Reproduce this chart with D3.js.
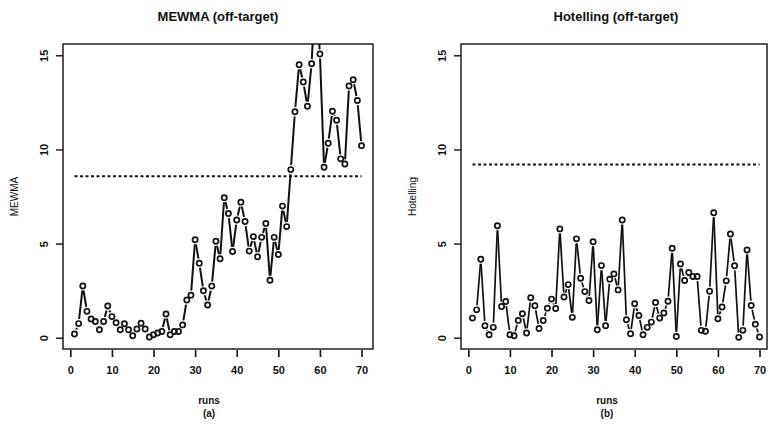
<!DOCTYPE html>
<html>
<head>
<meta charset="utf-8">
<script src="https://cdn.jsdelivr.net/npm/d3@7"></script>
<style>
  body { margin: 0; background: #fff; }
  svg { display: block; font-family: "Liberation Sans", Arial, sans-serif; }
</style>
</head>
<body>
<div id="chart"></div>
<script>
// run numbers 1..70 on the x axis
const runs = d3.range(1, 71);

const mewmaValues = [
  0.2, 0.75, 2.75, 1.4, 1.0, 0.86, 0.42, 0.86, 1.68, 1.12,
  0.8, 0.42, 0.74, 0.42, 0.1, 0.46, 0.77, 0.46, 0.04, 0.16,
  0.25, 0.33, 1.26, 0.16, 0.33, 0.33, 0.68, 2.0, 2.26, 5.2,
  3.96, 2.49, 1.74, 2.74, 5.12, 4.19, 7.44, 6.6, 4.58, 6.25,
  7.2, 6.17, 4.6, 5.37, 4.3, 5.33, 6.07, 3.05, 5.33, 4.42,
  6.99, 5.9, 8.93, 12.0, 14.5, 13.58, 12.3, 14.55, 19.0, 15.07,
  9.05, 10.33, 12.03, 11.55, 9.5, 9.23, 13.37, 13.7, 12.6, 10.2
];

const hotellingValues = [
  1.04, 1.48, 4.17, 0.64, 0.16, 0.55, 5.95, 1.66, 1.92, 0.16,
  0.1, 0.92, 1.27, 0.25, 2.12, 1.7, 0.49, 0.92, 1.57, 2.05,
  1.55, 5.78, 2.16, 2.82, 1.08, 5.25, 3.16, 2.45, 1.98, 5.1,
  0.42, 3.83, 0.64, 3.11, 3.39, 2.54, 6.25, 0.95, 0.21, 1.8,
  1.18, 0.16, 0.55, 0.83, 1.87, 1.04, 1.31, 1.94, 4.75, 0.07,
  3.92, 3.04, 3.46, 3.25, 3.25, 0.39, 0.34, 2.47, 6.64, 1.01,
  1.63, 3.02, 5.51, 3.82, 0.02, 0.39, 4.66, 1.71, 0.72, 0.04
];

const xTicks = [0, 10, 20, 30, 40, 50, 60, 70];
const yTicks = [0, 5, 10, 15];

const panels = [
  { title: "MEWMA (off-target)", ylab: "MEWMA", caption: "(a)", values: mewmaValues, limit: 8.58, lw: 2 },
  { title: "Hotelling (off-target)", ylab: "Hotelling", caption: "(b)", values: hotellingValues, limit: 9.2, lw: 1.7 }
];

const width = 769, height = 427;
const svg = d3.select("#chart").append("svg")
  .attr("width", width)
  .attr("height", height);

// R style padding: 4% each side
const xDomain = [1 - 69 * 0.04, 70 + 69 * 0.04];
const yDomain = [-0.6, 15.6];

function drawPanel(p, left, idx) {
  const boxW = 310, top = 44, bottom = 349;
  const x = d3.scaleLinear().domain(xDomain).range([left, left + boxW]);
  const y = d3.scaleLinear().domain(yDomain).range([bottom, top]);
  const right = Math.min(left + boxW, width - 2);
  const g = svg.append("g");

  g.append("clipPath").attr("id", "clip" + idx)
    .append("rect")
    .attr("x", left).attr("y", top)
    .attr("width", right - left).attr("height", bottom - top);

  // box
  g.append("rect")
    .attr("x", left).attr("y", top)
    .attr("width", right - left).attr("height", bottom - top)
    .attr("fill", "none")
    .attr("stroke", "#111")
    .attr("stroke-width", 1.4);

  // x axis
  const xAxis = g.append("g")
    .attr("transform", `translate(0,${bottom + 1})`)
    .call(d3.axisBottom(x).tickValues(xTicks).tickSize(7).tickPadding(9));
  xAxis.select(".domain").remove();
  xAxis.selectAll("line").attr("stroke", "#111").attr("stroke-width", 1.6);
  xAxis.selectAll("text")
    .style("font-family", "'Liberation Sans', Arial, sans-serif")
    .style("font-size", "11px")
    .style("font-weight", "bold")
    .attr("fill", "#111");

  // y axis, labels perpendicular as in R
  const yAxis = g.append("g")
    .attr("transform", `translate(${left},0)`)
    .call(d3.axisLeft(y).tickValues(yTicks).tickSize(7));
  yAxis.select(".domain").remove();
  yAxis.selectAll("line").attr("stroke", "#111").attr("stroke-width", 1.4);
  yAxis.selectAll("text")
    .attr("x", 0).attr("dy", 0)
    .attr("transform", `translate(-19,0) rotate(-90)`)
    .attr("text-anchor", "middle")
    .attr("dominant-baseline", "central")
    .style("font-family", "'Liberation Sans', Arial, sans-serif")
    .style("font-size", "11px")
    .style("font-weight", "bold")
    .attr("fill", "#111");

  // titles
  g.append("text")
    .attr("x", left + boxW / 2)
    .attr("y", 21)
    .attr("text-anchor", "middle")
    .style("font-size", "13px")
    .style("font-weight", "bold")
    .attr("fill", "#111")
    .text(p.title);

  g.append("text")
    .attr("transform", `translate(${left - 45},${(top + bottom) / 2}) rotate(-90)`)
    .attr("text-anchor", "middle")
    .style("font-size", "10px")
    .attr("fill", "#111")
    .text(p.ylab);

  g.append("text")
    .attr("x", left + boxW / 2 - 9)
    .attr("y", 404)
    .attr("text-anchor", "middle")
    .style("font-size", "10px")
    .style("font-weight", "bold")
    .attr("fill", "#111")
    .text("runs");

  g.append("text")
    .attr("x", left + boxW / 2 - 9)
    .attr("y", 417)
    .attr("text-anchor", "middle")
    .style("font-size", "10px")
    .style("font-weight", "bold")
    .attr("fill", "#111")
    .text(p.caption);

  // control limit
  g.append("line")
    .attr("x1", x(1)).attr("x2", x(70))
    .attr("y1", y(p.limit)).attr("y2", y(p.limit))
    .attr("stroke", "#111")
    .attr("stroke-width", 2)
    .attr("stroke-dasharray", "3,2.5");

  // type = "b": segments with gaps round the points
  const pts = p.values.map((v, i) => ({ run: runs[i], v: v, px: x(runs[i]), py: y(v) }));
  const gap = 4.6;
  const segs = [];
  for (let i = 0; i < pts.length - 1; i++) {
    const a = pts[i], b = pts[i + 1];
    const dx = b.px - a.px, dy = b.py - a.py;
    const len = Math.hypot(dx, dy);
    if (len <= 2 * gap) continue;
    const ux = dx / len, uy = dy / len;
    segs.push({ x1: a.px + ux * gap, y1: a.py + uy * gap, x2: b.px - ux * gap, y2: b.py - uy * gap });
  }

  const plot = g.append("g").attr("clip-path", `url(#clip${idx})`);

  plot.selectAll("line.seg")
    .data(segs)
    .enter()
    .append("line")
    .attr("class", "seg")
    .attr("x1", d => d.x1).attr("y1", d => d.y1)
    .attr("x2", d => d.x2).attr("y2", d => d.y2)
    .attr("stroke", "#111")
    .attr("stroke-width", p.lw);

  plot.selectAll("circle")
    .data(pts)
    .enter()
    .append("circle")
    .attr("cx", d => d.px)
    .attr("cy", d => d.py)
    .attr("r", 2.6)
    .attr("fill", "none")
    .attr("stroke", "#111")
    .attr("stroke-width", 1.7);
}

drawPanel(panels[0], 63, 0);
drawPanel(panels[1], 461, 1);
</script>
</body>
</html>
